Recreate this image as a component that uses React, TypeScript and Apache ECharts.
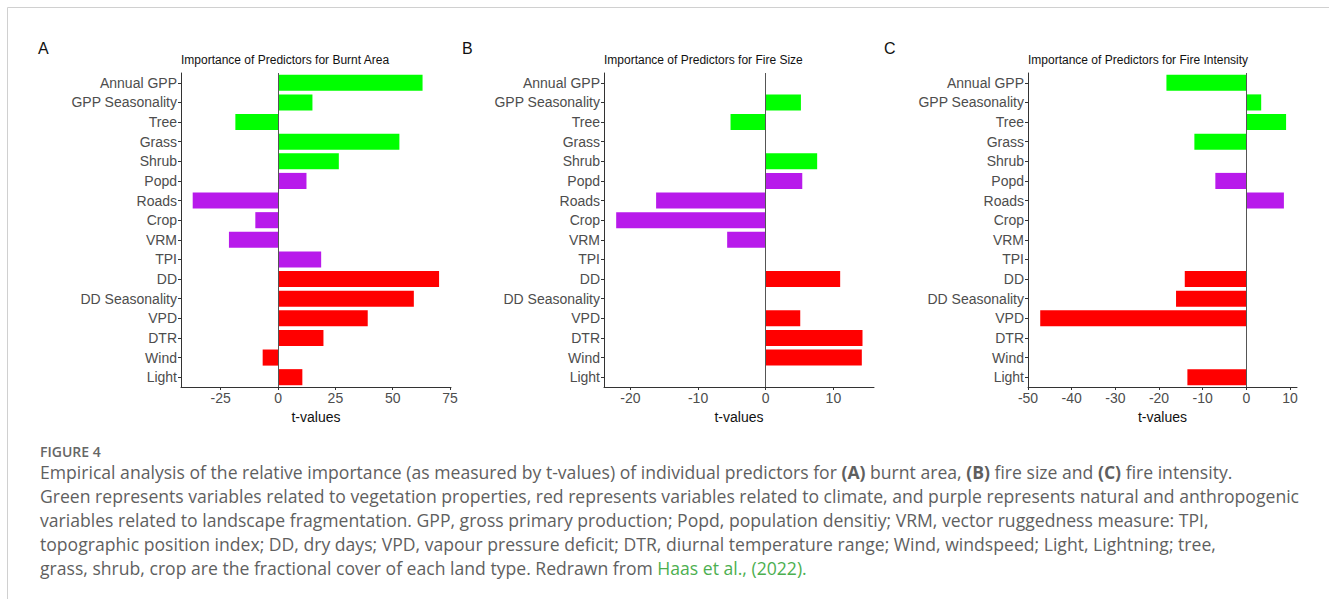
import React, { useEffect, useRef } from "react";
import * as echarts from "echarts";

const categories = [
  "Annual GPP", "GPP Seasonality", "Tree", "Grass", "Shrub",
  "Popd", "Roads", "Crop", "VRM", "TPI",
  "DD", "DD Seasonality", "VPD", "DTR", "Wind", "Light",
];
const groups = [
  "veg", "veg", "veg", "veg", "veg",
  "frag", "frag", "frag", "frag", "frag",
  "clim", "clim", "clim", "clim", "clim", "clim",
];
const burntArea = [63, 15, -18.6, 52.9, 26.5, 12.4, -37.2, -9.9, -21.4, 18.8, 70.2, 59.2, 39.1, 19.8, -6.7, 10.6];
const fireSize = [null, 5.2, -5.2, null, 7.6, 5.4, -16.2, -22.1, -5.7, null, 11.0, null, 5.1, 14.3, 14.2, null];
const fireIntensity = [-18.3, 3.4, 9.1, -11.9, null, -7.1, 8.6, null, null, null, -14.1, -16.1, -47.2, null, null, -13.5];

const ticksA = [-25, 0, 25, 50, 75];
const ticksB = [-20, -10, 0, 10];
const ticksC = [-50, -40, -30, -20, -10, 0, 10];

const panelTitles = [
  "Importance of Predictors for Burnt Area",
  "Importance of Predictors for Fire Size",
  "Importance of Predictors for Fire Intensity",
];
const panelLetters = ["A", "B", "C"];

const groupColors: Record<string, string> = {
  veg: "#00FF00",
  frag: "#B81AEB",
  clim: "#FF0000",
};

const captionHead = "FIGURE 4";
const captionLines = [
  "Empirical analysis of the relative importance (as measured by t-values) of individual predictors for {b|(A)} burnt area, {b|(B)} fire size and {b|(C)} fire intensity.",
  "Green represents variables related to vegetation properties, red represents variables related to climate, and purple represents natural and anthropogenic",
  "variables related to landscape fragmentation. GPP, gross primary production; Popd, population densitiy; VRM, vector ruggedness measure: TPI,",
  "topographic position index; DD, dry days; VPD, vapour pressure deficit; DTR, diurnal temperature range; Wind, windspeed; Light, Lightning; tree,",
  "grass, shrub, crop are the fractional cover of each land type. Redrawn from {g|Haas et al., (2022).}",
];

const FONT = "Liberation Sans, Arial, sans-serif";
const CAP_FONT = "Open Sans, sans-serif";
const CAP_SIZE = 17.6;

export default function App() {
  const ref = useRef<HTMLDivElement>(null);
  useEffect(() => {
    if (!ref.current) return;
    const chart = echarts.init(ref.current, null, { renderer: "svg" });

    const panels = [
      { left: 181, width: 270, min: -42.3, max: 75.4, ticks: ticksA, values: burntArea },
      { left: 604, width: 270, min: -23.9, max: 16.0, ticks: ticksB, values: fireSize },
      { left: 1028, width: 269, min: -50, max: 11.6, ticks: ticksC, values: fireIntensity },
    ];

    const grid = panels.map((p) => ({ left: p.left, width: p.width, top: 73, height: 314, containLabel: false }));
    const xAxis = panels.map((p, i) => ({
      type: "value",
      gridIndex: i,
      min: p.min,
      max: p.max,
      name: "t-values",
      nameLocation: "middle",
      nameGap: 19,
      nameTextStyle: { fontFamily: FONT, fontSize: 14, color: "#111" },
      axisLine: { show: true, lineStyle: { color: "#333", width: 1 } },
      axisTick: { show: true, length: 3, customValues: p.ticks, lineStyle: { color: "#333" } },
      axisLabel: { customValues: p.ticks, fontFamily: FONT, fontSize: 14, color: "#4D4D4D", margin: 4 },
      splitLine: { show: false },
    }));
    const yAxis = panels.map((p, i) => ({
      type: "category",
      gridIndex: i,
      data: categories,
      inverse: true,
      axisLine: { show: true, onZero: false, lineStyle: { color: "#333", width: 1 } },
      axisTick: { show: true, length: 3, alignWithLabel: true, lineStyle: { color: "#333" } },
      axisLabel: { fontFamily: FONT, fontSize: 14, color: "#4D4D4D", margin: 4 },
      splitLine: { show: false },
    }));
    const series = panels.map((p, i) => ({
      type: "bar",
      xAxisIndex: i,
      yAxisIndex: i,
      barCategoryGap: "18%",
      data: p.values.map((v, k) => ({
        value: v,
        itemStyle: { color: groupColors[groups[k]] },
      })),
      markLine: {
        silent: true,
        symbol: ["none", "none"],
        label: { show: false },
        lineStyle: { color: "#555", width: 1, type: "solid" },
        data: [{ xAxis: 0 }],
      },
    }));

    const title = panels.map((p, i) => ({
      text: panelTitles[i],
      left: p.left,
      top: 54,
      padding: 0,
      textStyle: { fontFamily: FONT, fontSize: 12, fontWeight: "normal", color: "#111" },
    }));

    const letterX = [38, 462, 884];
    const graphic: any[] = [
      { type: "line", shape: { x1: 7.5, y1: 7.5, x2: 1329, y2: 7.5 }, style: { stroke: "#D0D0D0", lineWidth: 1 } },
      { type: "line", shape: { x1: 7.5, y1: 7.5, x2: 7.5, y2: 599 }, style: { stroke: "#D0D0D0", lineWidth: 1 } },
      ...panelLetters.map((l, i) => ({
        type: "text",
        left: letterX[i],
        top: 40,
        style: { text: l, fontFamily: FONT, fontSize: 16, fill: "#111" },
      })),
      {
        type: "text",
        left: 40,
        top: 444,
        style: { text: captionHead, fontFamily: CAP_FONT, fontSize: 14, fontWeight: 600, fill: "#666" },
      },
      ...captionLines.map((t, i) => ({
        type: "text",
        left: 40,
        top: 463 + i * 24,
        style: {
          text: t,
          fontFamily: CAP_FONT,
          fontSize: CAP_SIZE,
          fill: "#5F5F5F",
          rich: {
            b: { fontFamily: CAP_FONT, fontSize: CAP_SIZE, fontWeight: "bold", fill: "#5F5F5F", color: "#5F5F5F" },
            g: { fontFamily: CAP_FONT, fontSize: CAP_SIZE, fill: "#4CAF50", color: "#4CAF50" },
          },
        },
      })),
    ];

    chart.setOption({
      animation: false,
      backgroundColor: "#FFFFFF",
      title,
      grid,
      xAxis,
      yAxis,
      series,
      graphic,
    });
    return () => chart.dispose();
  }, []);
  return <div ref={ref} style={{ position: "absolute", left: 0, top: 0, width: 1329, height: 599 }} />;
}
